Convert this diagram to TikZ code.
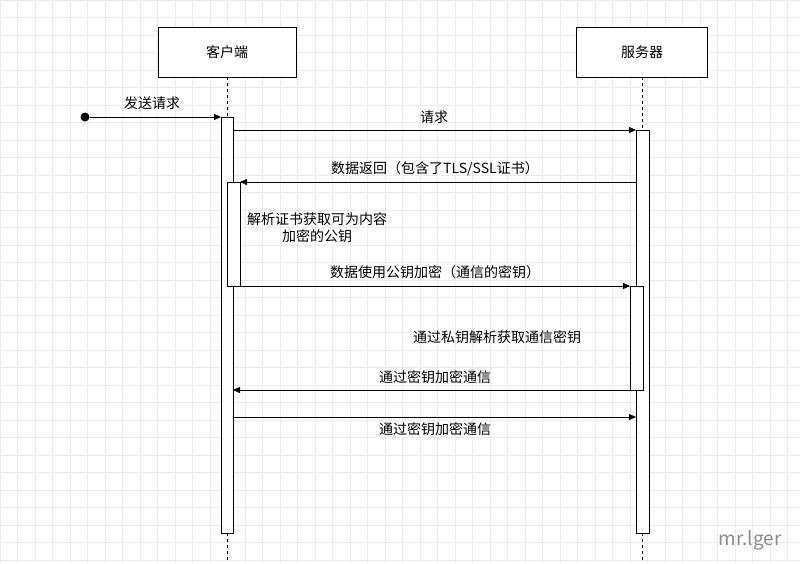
\documentclass[tikz,border=0pt]{standalone}
\usepackage{fontspec}
\setmainfont{Noto Sans CJK SC}
\usetikzlibrary{arrows.meta,positioning}

\begin{document}
\begin{tikzpicture}[x=1pt, y=-1pt, font=\fontsize{14}{17}\selectfont]
\tikzstyle{actor}=[rectangle, draw=black, fill=white, minimum width=138pt, minimum height=50pt, inner sep=0pt]
\tikzstyle{activation}=[rectangle, draw=black, fill=white, thin]
\tikzstyle{msgstyle}=[thin, -{Triangle[length=7pt, width=6pt]}]
\tikzstyle{lifeline}=[thin, dash pattern=on 3pt off 3pt]

\useasboundingbox (0,0) rectangle (800,563);
\fill[white] (0,0) rectangle (800,563);
\draw[black!8, step=17.5pt] (0,0) grid (800,563);

\node[actor] (client) at (227,52) {客户端};
\node[actor, minimum width=131pt] (server) at (642,52) {服务器};
\draw[lifeline] (client.south) -- (227,563);
\draw[lifeline] (server.south) -- (642,563);

% activations
\filldraw[activation] (221,117) rectangle (233,533);
\filldraw[activation] (636,130) rectangle (649,533);
\filldraw[activation] (227,182) rectangle (240,286);
\filldraw[activation] (630,286) rectangle (643,390);

\node[circle, fill=black, inner sep=0pt, minimum size=9pt] (start) at (85,117) {};
\coordinate (c0) at (221,117);
\coordinate (c1) at (233,130);  \coordinate (s1) at (636,130);
\coordinate (s2) at (636,182);  \coordinate (c2) at (240,182);
\coordinate (c3) at (240,286);  \coordinate (s3) at (630,286);
\coordinate (s4) at (630,390);  \coordinate (c4) at (233,390);
\coordinate (c5) at (233,417);  \coordinate (s5) at (636,417);

\draw[msgstyle] (start) -- (c0);
\draw[msgstyle] (c1) -- (s1);
\draw[msgstyle] (s2) -- (c2);
\draw[msgstyle] (c3) -- (s3);
\draw[msgstyle] (s4) -- (c4);
\draw[msgstyle] (c5) -- (s5);

\node (l0) at (152,103) {发送请求};
\node (l1) at (434,117) {请求};
\node (l2) at (435,169) {数据返回（包含了TLS/SSL证书）};
\node[align=center] (l3) at (317,228) {解析证书获取可为内容\\加密的公钥};
\node (l4) at (435,272) {数据使用公钥加密（通信的密钥）};
\node (l5) at (497,337) {通过私钥解析获取通信密钥};
\node (l6) at (435,377) {通过密钥加密通信};
\node (l7) at (435,429) {通过密钥加密通信};
\node[text=black!45, font=\fontsize{19}{22}\selectfont] (mark) at (750,540) {mr.lger};
\end{tikzpicture}
\end{document}
